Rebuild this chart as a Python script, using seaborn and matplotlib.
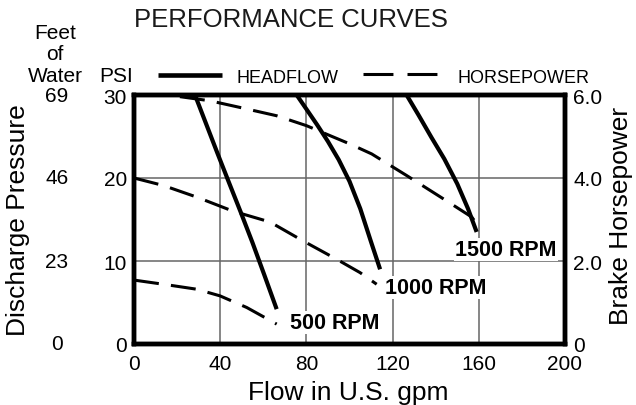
import matplotlib
matplotlib.use("Agg")
import matplotlib.pyplot as plt
from matplotlib.lines import Line2D
from matplotlib.transforms import blended_transform_factory
import seaborn as sns

# headflow curves: discharge pressure (PSI) vs flow (U.S. gpm)
flow_500 = [28.3, 33.5, 38.7, 44.0, 49.5, 55.0, 60.5, 66.2]
psi_500 = [30.0, 26.5, 23.0, 19.5, 15.9, 12.2, 8.3, 4.2]
flow_1000 = [75.5, 80, 85, 90, 95, 100, 105, 110, 114.2]
psi_1000 = [30.0, 28.3, 26.4, 24.4, 22.2, 19.6, 16.3, 12.3, 9.0]
flow_1500 = [126.5, 132, 138, 144, 150, 155, 159]
psi_1500 = [30.0, 27.6, 24.9, 22.3, 19.3, 16.3, 13.5]

# horsepower curves: brake horsepower vs flow
hp_flow_500 = [0, 13.6, 29.1, 39.9, 52.3, 66.2]
hp_500 = [1.54, 1.44, 1.32, 1.16, 0.88, 0.48]
hp_flow_1000 = [0, 13.6, 29.1, 46.0, 63.1, 78.6, 94.1, 104.9, 112.6]
hp_1000 = [4.0, 3.82, 3.54, 3.2, 2.94, 2.48, 2.04, 1.72, 1.44]
hp_flow_1500 = [21.3, 35.3, 49.2, 66.2, 80.1, 91.0, 100.2, 110.3, 126.5, 143.5, 156.7, 159.0]
hp_1500 = [5.96, 5.86, 5.70, 5.50, 5.26, 5.02, 4.82, 4.58, 4.06, 3.50, 3.06, 2.90]

rpm_labels = ["500 RPM", "1000 RPM", "1500 RPM"]
label_pos = [(72.4, 2.6), (116.5, 6.8), (149.0, 11.4)]

x_ticks = [0, 40, 80, 120, 160, 200]
psi_ticks = [0, 10, 20, 30]
feet_ticks = ["0", "23", "46", "69"]
hp_ticks = [0, 2, 4, 6]
hp_tick_labels = ["0", "2.0", "4.0", "6.0"]

sns.set_style("white")
plt.rcParams['font.family'] = ['Liberation Sans', 'DejaVu Sans']
plt.rcParams['text.color'] = 'black'

W, H = 636, 406
def fx(x):
    return x / W
def fy(y):
    return 1 - y / H

fig = plt.figure(figsize=(6.36, 4.06), dpi=100)
ax = fig.add_axes([fx(134), fy(345), (565 - 134) / W, (345 - 96) / H])
ax2 = ax.twinx()

solid = dict(color='black', lw=3.0, solid_capstyle='butt', solid_joinstyle='round')
dashed = dict(color='black', lw=2.2, linestyle=(0, (8.2, 4.0)), dash_capstyle='butt')

for fl, ps in [(flow_500, psi_500), (flow_1000, psi_1000), (flow_1500, psi_1500)]:
    sns.lineplot(x=fl, y=ps, ax=ax, **solid)
for fl, hp in [(hp_flow_500, hp_500), (hp_flow_1000, hp_1000), (hp_flow_1500, hp_1500)]:
    sns.lineplot(x=fl, y=hp, ax=ax2, **dashed)

ax.set_xlim(0, 200)
ax.set_ylim(0, 30)
ax2.set_ylim(0, 6)
ax.set_xticks(x_ticks)
ax.set_yticks(psi_ticks)
ax2.set_yticks(hp_ticks)
ax2.set_yticklabels(hp_tick_labels)
ax.set_xlabel('')
ax.set_ylabel('')
ax2.set_ylabel('')

ax.set_axisbelow(True)
ax.grid(True, color='#666666', lw=1.1)
ax2.grid(False)
ax.tick_params(axis='both', length=0, labelsize=15, colors='black')
ax.tick_params(axis='x', pad=7)
ax.tick_params(axis='y', pad=5)
ax2.tick_params(axis='y', length=0, labelsize=15, pad=6, colors='black')

for a in (ax, ax2):
    for sp in a.spines.values():
        sp.set_linewidth(3.2)
        sp.set_color('black')

for txt, (x, y) in zip(rpm_labels, label_pos):
    ax.text(x, y, txt, fontsize=15.5, fontweight='bold', ha='left', va='center',
            zorder=3, bbox=dict(facecolor='white', edgecolor='none', pad=1))

# feet of water scale on the far left
tr = blended_transform_factory(fig.transFigure, ax.transData)
for v, lab in zip(psi_ticks, feet_ticks):
    ax.text(fx(57), v, lab, transform=tr, fontsize=15, ha='center', va='center',
            color='black')

fig.text(fx(55), fy(39), "Feet", fontsize=15, ha='center', va='baseline')
fig.text(fx(55), fy(60), "of", fontsize=15, ha='center', va='baseline')
fig.text(fx(55), fy(82), "Water", fontsize=15, ha='center', va='baseline')
fig.text(fx(116), fy(82), "PSI", fontsize=15, ha='center', va='baseline')

fig.text(fx(291), fy(27), "PERFORMANCE CURVES", fontsize=18.5, ha='center',
         va='baseline', color='#1a1a1a')

# legend row
fig.add_artist(Line2D([fx(158), fx(222)], [fy(75.5), fy(75.5)], color='black',
                      lw=3.3, solid_capstyle='butt'))
fig.text(fx(237), fy(83), "HEADFLOW", fontsize=13, ha='left', va='baseline')
fig.add_artist(Line2D([fx(363), fx(437)], [fy(75), fy(75)], color='black', lw=2.2,
                      linestyle=(0, (9.8, 4.6)), dash_capstyle='butt'))
fig.text(fx(458), fy(83), "HORSEPOWER", fontsize=13, ha='left', va='baseline')

fig.text(fx(18), fy(220), "Discharge Pressure", fontsize=19, rotation=90,
         ha='center', va='center')
fig.text(fx(621), fy(216), "Brake Horsepower", fontsize=19, rotation=90,
         ha='center', va='center')
fig.text(fx(348), fy(400), "Flow in U.S. gpm", fontsize=19, ha='center', va='baseline')

fig.savefig("out.png", dpi=100)
